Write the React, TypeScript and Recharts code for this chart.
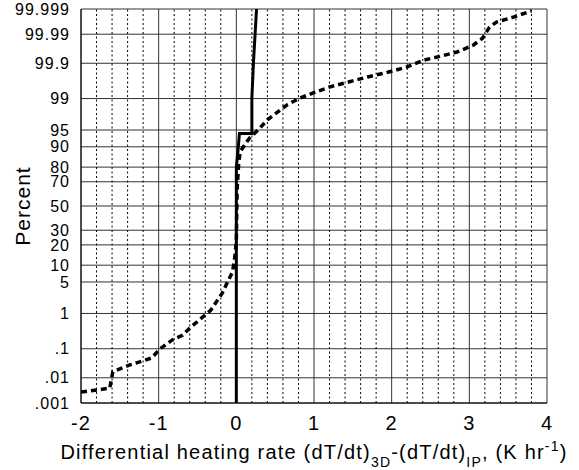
import { LineChart, Line, XAxis, YAxis, CartesianGrid, ReferenceLine } from 'recharts';

// percent ticks on the probability axis
const yTickPct = [0.001, 0.01, 0.1, 1, 5, 10, 20, 30, 50, 70, 80, 90, 95, 99, 99.9, 99.99, 99.999];
const yTickLabels = ['.001', '.01', '.1', '1', '5', '10', '20', '30', '50', '70', '80', '90', '95', '99', '99.9', '99.99', '99.999'];
const xTicks = [-2, -1, 0, 1, 2, 3, 4];
const xMinor = [-1.8, -1.6, -1.4, -1.2, -0.8, -0.6, -0.4, -0.2, 0.2, 0.4, 0.6, 0.8, 1.2, 1.4, 1.6, 1.8,
  2.2, 2.4, 2.6, 2.8, 3.2, 3.4, 3.6, 3.8];

// dashed series: x (K/hr) and cumulative percent
const dashedX = [-2.0, -1.63, -1.59, -1.5, -1.37, -1.2, -1.09, -0.98, -0.82, -0.69, -0.6, -0.47, -0.33, -0.24,
  -0.18, -0.1, -0.05, -0.025, -0.01, 0, 0.01, 0.03, 0.05, 0.12, 0.18, 0.28, 0.4, 0.53, 0.66, 0.82, 0.99, 1.2,
  1.43, 1.69, 1.95, 2.2, 2.41, 2.62, 2.84, 3.05, 3.17, 3.26, 3.35, 3.56, 3.8];
const dashedPct = [0.0028, 0.004, 0.0165, 0.021, 0.029, 0.04, 0.05, 0.1, 0.19, 0.26, 0.41, 0.7, 1.2, 2.1,
  3.0, 5.5, 7.6, 12, 17, 23, 64, 82, 88, 91.3, 93.2, 95, 96.9, 97.9, 98.6, 99.03, 99.28, 99.5,
  99.63, 99.74, 99.81, 99.87, 99.92, 99.94, 99.957, 99.975, 99.986, 99.9946, 99.9966, 99.9978, 99.9988];

// solid series
const solidX = [0, 0, 0, 0.02, 0.04, 0.2, 0.2, 0.22, 0.26];
const solidPct = [0.001, 50, 80, 88, 94.2, 94.2, 99, 99.9, 99.999];

// inverse normal CDF (Acklam)
function probit(p: number) {
  const a = [-39.69683028665376, 220.9460984245205, -275.9285104469687, 138.357751867269, -30.66479806614716, 2.506628277459239];
  const b = [-54.47609879822406, 161.5858368580409, -155.6989798598866, 66.80131188771972, -13.28068155288572];
  const c = [-0.007784894002430293, -0.3223964580411365, -2.400758277161838, -2.549732539343734, 4.374664141464968, 2.938163982698783];
  const d = [0.007784695709041462, 0.3224671290700398, 2.445134137142996, 3.754408661907416];
  const plow = 0.02425;
  if (p < plow) {
    const q = Math.sqrt(-2 * Math.log(p));
    return (((((c[0] * q + c[1]) * q + c[2]) * q + c[3]) * q + c[4]) * q + c[5]) /
      ((((d[0] * q + d[1]) * q + d[2]) * q + d[3]) * q + 1);
  }
  if (p <= 1 - plow) {
    const q = p - 0.5;
    const r = q * q;
    return (((((a[0] * r + a[1]) * r + a[2]) * r + a[3]) * r + a[4]) * r + a[5]) * q /
      (((((b[0] * r + b[1]) * r + b[2]) * r + b[3]) * r + b[4]) * r + 1);
  }
  const q = Math.sqrt(-2 * Math.log(1 - p));
  return -(((((c[0] * q + c[1]) * q + c[2]) * q + c[3]) * q + c[4]) * q + c[5]) /
    ((((d[0] * q + d[1]) * q + d[2]) * q + d[3]) * q + 1);
}

const yTicks = yTickPct.map((v) => probit(v / 100));
const dashedData = dashedX.map((x, i) => ({ x, z: probit(dashedPct[i] / 100) }));
const solidData = solidX.map((x, i) => ({ x, z: probit(solidPct[i] / 100) }));

const fmtY = (z: number) => {
  let best = 0;
  yTicks.forEach((t, i) => {
    if (Math.abs(t - z) < Math.abs(yTicks[best] - z)) best = i;
  });
  return yTickLabels[best];
};

const font = 'Liberation Sans, Arial, Helvetica, sans-serif';

function XTitle(props: any) {
  const vb = props.viewBox || { x: 81, y: 403, width: 466, height: 67 };
  const cx = vb.x + vb.width / 2;
  return (
    <text x={cx} y={vb.y + 56} textAnchor="middle" fontSize={20} fontFamily={font} letterSpacing={1.2} fill="#000">
      <tspan>Differential heating rate (dT/dt)</tspan>
      <tspan fontSize={14} dy={8}>3D</tspan>
      <tspan dy={-8}>-(dT/dt)</tspan>
      <tspan fontSize={14} dy={8}>IP</tspan>
      <tspan dy={-8}>, (K hr</tspan>
      <tspan fontSize={14} dy={-8}>-1</tspan>
      <tspan dy={8}>)</tspan>
    </text>
  );
}

function YTitle(props: any) {
  const vb = props.viewBox || { x: 0, y: 9, width: 81, height: 394 };
  const cy = vb.y + vb.height / 2;
  const x = 30;
  return (
    <text x={x} y={cy} transform={`rotate(-90 ${x} ${cy})`} textAnchor="middle" fontSize={21}
      fontFamily={font} letterSpacing={1} fill="#000">
      Percent
    </text>
  );
}

export default function App() {
  return (
    <div style={{ position: 'absolute', left: 0, top: 0, background: '#fff' }}>
      <LineChart width={579} height={470} margin={{ top: 9, right: 32, left: 0, bottom: 0 }} style={{ fontFamily: font }}>
        <CartesianGrid stroke="#333" strokeWidth={1} />
        {xMinor.map((v) => (
          <ReferenceLine key={v} x={v} stroke="#000" strokeWidth={1} strokeDasharray="2 2.5" />
        ))}
        <XAxis
          type="number"
          dataKey="x"
          domain={[-2, 4]}
          ticks={xTicks}
          allowDataOverflow
          height={67}
          tickLine={false}
          tickSize={6}
          tickMargin={7}
          axisLine={{ stroke: '#000' }}
          tick={{ fontSize: 20, fill: '#000', fontFamily: font, letterSpacing: 1 }}
          label={<XTitle />}
        />
        <YAxis
          type="number"
          dataKey="z"
          domain={[yTicks[0], yTicks[yTicks.length - 1]]}
          ticks={yTicks}
          allowDataOverflow
          interval={0}
          width={81}
          tickLine={false}
          tickSize={6}
          tickMargin={5}
          axisLine={{ stroke: '#000' }}
          tickFormatter={fmtY}
          tick={{ fontSize: 16, fill: '#000', fontFamily: font, letterSpacing: 1 }}
          label={<YTitle />}
        />
        <Line data={dashedData} dataKey="z" type="linear" stroke="#000" strokeWidth={3.5}
          strokeDasharray="6 4" dot={false} isAnimationActive={false} />
        <Line data={solidData} dataKey="z" type="linear" stroke="#000" strokeWidth={3}
          dot={false} isAnimationActive={false} />
      </LineChart>
    </div>
  );
}
